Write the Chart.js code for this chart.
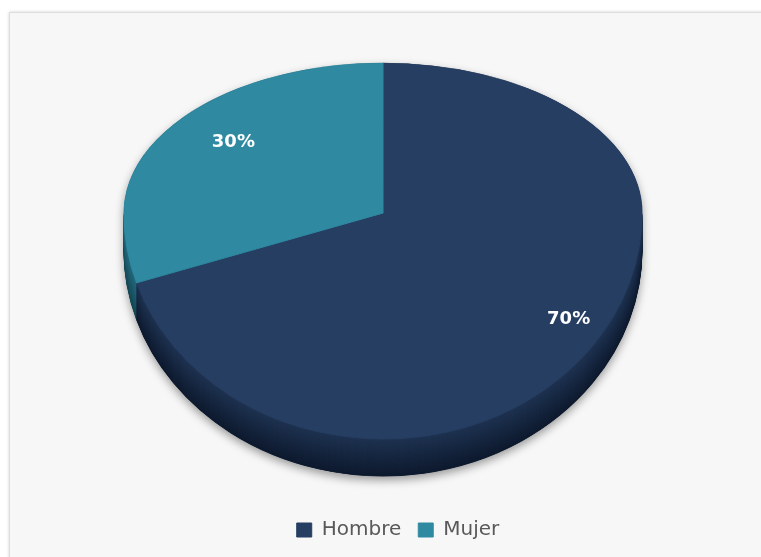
<!DOCTYPE html>
<html>
<head>
<meta charset="utf-8">
<title>Hombre / Mujer</title>
<script src="https://cdn.jsdelivr.net/npm/chart.js@4.4.1/dist/chart.umd.min.js"></script>
<style>
  html, body { margin: 0; padding: 0; background: #ffffff; overflow: hidden; }
  body { width: 761px; height: 557px; position: relative; }
  .panel {
    position: absolute; left: 9px; top: 12px; right: -10px; bottom: -10px;
    background: #f7f7f7;
    border: 1px solid #dedede;
    box-shadow: 0 0 3px rgba(0, 0, 0, 0.18);
  }
  #gender-chart { position: absolute; left: 0; top: 0; }
</style>
</head>
<body>
<div class="panel"></div>
<canvas id="gender-chart" width="761" height="557"></canvas>
<script>
  'use strict';

  // data
  var labels = ['Hombre', 'Mujer'];
  var values = [70, 30];

  // colours: top face and the darker side of each slice
  var faceColors = ['#263e62', '#2f8aa1'];
  var sideTop = [[30, 50, 80], [36, 105, 124]];
  var sideBottom = [[14, 26, 46], [22, 70, 84]];

  // tilted pie geometry (page pixels)
  var PIE = { cx: 383, cy: 213, rx: 259, ryFar: 150, ryNear: 226, depth: 37 };
  var LABEL_R = 0.8;
  var LABEL_DX = 18;

  function mix(a, b, t) {
    return 'rgb(' + a.map(function (v, i) { return Math.round(v + (b[i] - v) * t); }).join(',') + ')';
  }

  // soft drop shadow under the whole solid
  function drawShadow(ctx) {
    ctx.save();
    ctx.beginPath();
    ctx.ellipse(PIE.cx, PIE.cy, PIE.rx, PIE.ryFar, 0, Math.PI, 2 * Math.PI);
    ctx.lineTo(PIE.cx + PIE.rx, PIE.cy + PIE.depth);
    ctx.ellipse(PIE.cx, PIE.cy + PIE.depth, PIE.rx, PIE.ryNear, 0, 0, Math.PI);
    ctx.closePath();
    ctx.shadowColor = 'rgba(0, 0, 0, 0.4)';
    ctx.shadowBlur = 10;
    ctx.shadowOffsetY = 4;
    ctx.fillStyle = mix(sideBottom[0], sideBottom[0], 0);
    ctx.fill();
    ctx.restore();
  }

  // draws the arcs of dataset 0 squashed into one half of the ellipse
  function drawHalf(chart, ry, upper, offsetY, colors) {
    var ctx = chart.ctx;
    var arcs = chart.getDatasetMeta(0).data;
    var r = arcs[0].outerRadius;
    var ox = arcs[0].x, oy = arcs[0].y;
    var cy = PIE.cy + offsetY;

    ctx.save();
    ctx.beginPath();
    if (upper) ctx.rect(0, 0, chart.width, cy);
    else ctx.rect(0, cy, chart.width, chart.height - cy);
    ctx.clip();
    ctx.translate(PIE.cx, cy);
    ctx.scale(PIE.rx / r, ry / r);
    ctx.translate(-ox, -oy);
    arcs.forEach(function (arc, i) {
      var el = arc;
      if (colors) {
        el = Object.create(arc);
        el.options = Object.assign({}, arc.options, { backgroundColor: colors[i], borderColor: colors[i] });
      }
      el.draw(ctx);
    });
    ctx.restore();
  }

  var tiltedPie = {
    id: 'tiltedPie',
    beforeDatasetsDraw: function (chart) {
      var ctx = chart.ctx;
      var d;

      drawShadow(ctx);

      // side walls, bottom layer first
      for (d = PIE.depth; d >= 1; d--) {
        var t = (d - 1) / (PIE.depth - 1);
        var cols = sideTop.map(function (c, i) { return mix(c, sideBottom[i], t); });
        drawHalf(chart, PIE.ryNear, false, d, cols);
      }

      // top face
      drawHalf(chart, PIE.ryFar, true, 0, null);
      drawHalf(chart, PIE.ryNear, false, 0, null);

      // percentage labels
      var arcs = chart.getDatasetMeta(0).data;
      var total = values.reduce(function (a, b) { return a + b; }, 0);
      ctx.save();
      ctx.font = 'bold 18px "DejaVu Sans"';
      ctx.fillStyle = '#ffffff';
      ctx.textAlign = 'center';
      ctx.textBaseline = 'middle';
      arcs.forEach(function (arc, i) {
        var mid = (arc.startAngle + arc.endAngle) / 2;
        var s = Math.sin(mid);
        var x = PIE.cx + Math.cos(mid) * PIE.rx * LABEL_R + LABEL_DX;
        var y = PIE.cy + s * (s < 0 ? PIE.ryFar : PIE.ryNear) * LABEL_R;
        ctx.fillText(Math.round(values[i] / total * 100) + '%', x, y);
      });
      ctx.restore();
      return false;
    }
  };

  new Chart(document.getElementById('gender-chart'), {
    type: 'pie',
    data: {
      labels: labels,
      datasets: [{
        data: values,
        backgroundColor: faceColors,
        borderColor: faceColors,
        borderWidth: 1
      }]
    },
    options: {
      responsive: false,
      animation: false,
      layout: { padding: { left: 35, bottom: 7 } },
      plugins: {
        tooltip: { enabled: false },
        legend: {
          position: 'bottom',
          labels: {
            boxWidth: 15,
            boxHeight: 14,
            padding: 17,
            color: '#595959',
            font: { family: '"DejaVu Sans"', size: 20 }
          }
        }
      }
    },
    plugins: [tiltedPie]
  });
</script>
</body>
</html>
